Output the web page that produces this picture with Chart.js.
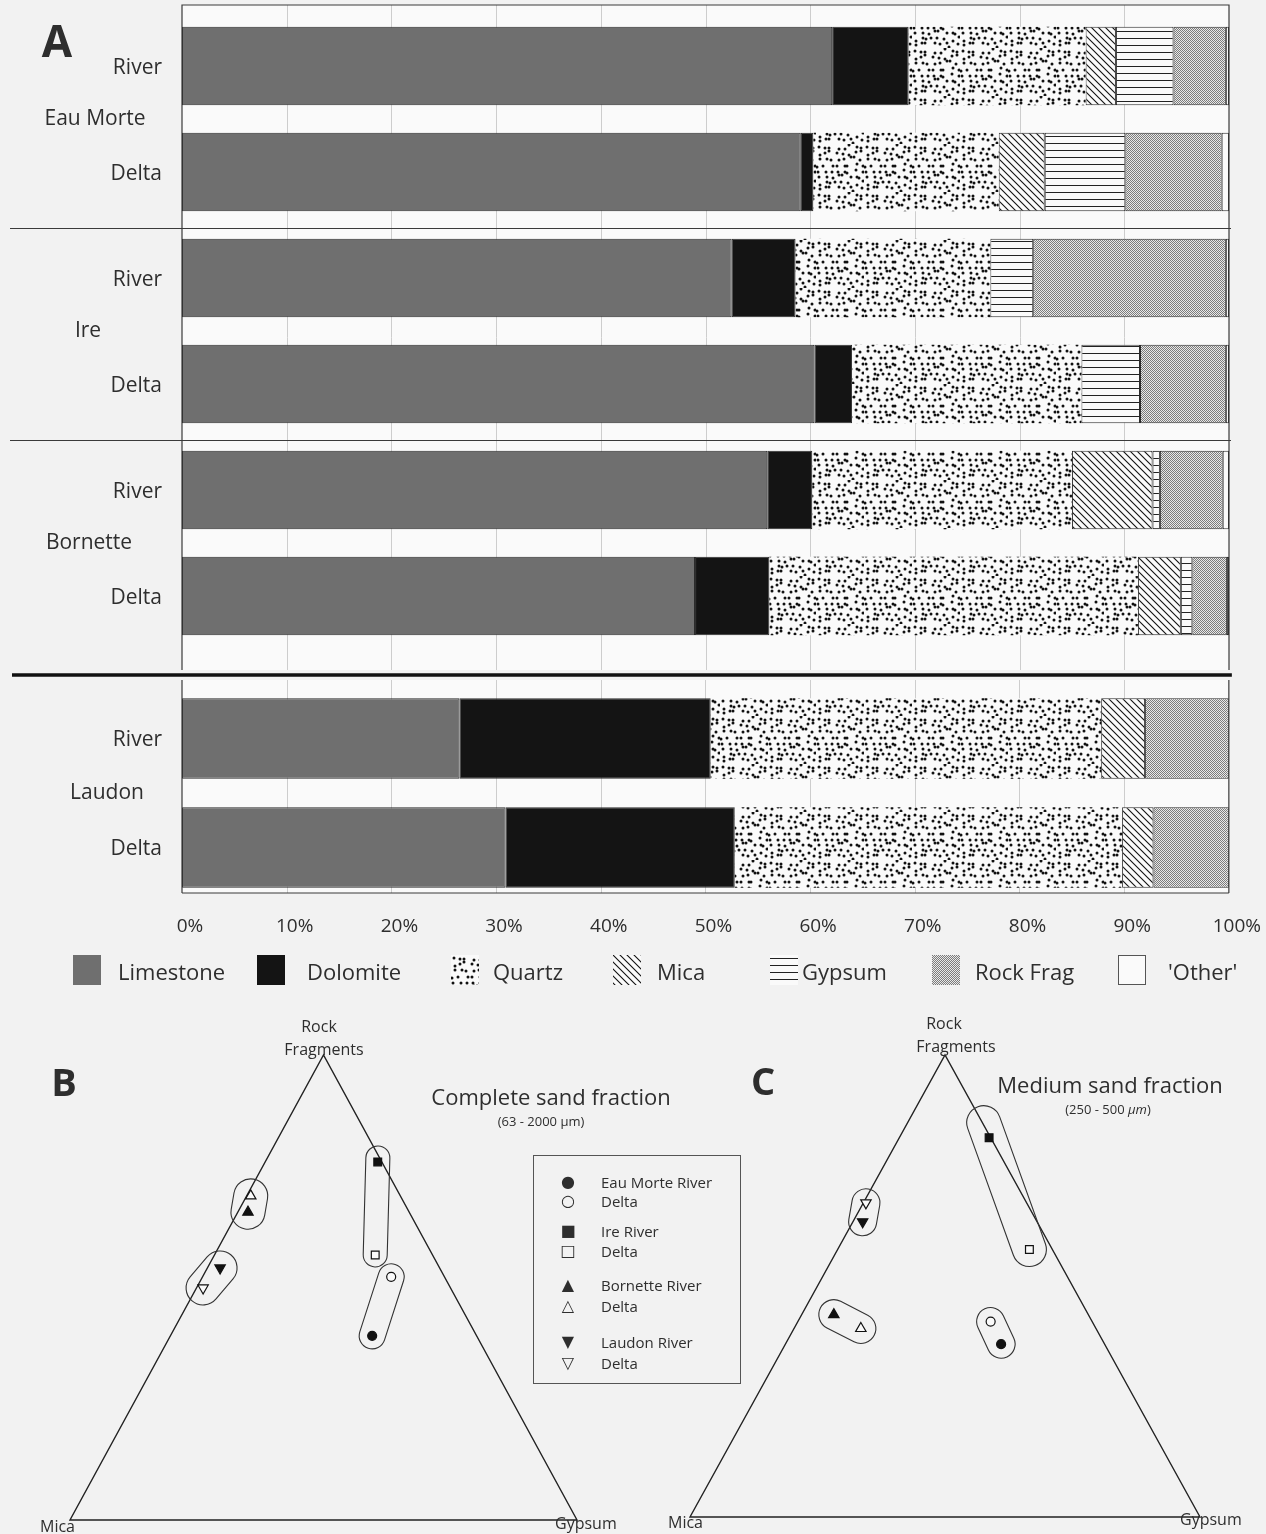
<!DOCTYPE html>
<html>
<head>
<meta charset="utf-8">
<title>Sand composition</title>
<script src="https://cdn.jsdelivr.net/npm/chart.js@4.4.1/dist/chart.umd.min.js"></script>
<style>
  html, body { margin: 0; padding: 0; background: #f2f2f2; }
  #page { position: relative; width: 1266px; height: 1534px; overflow: hidden; font-family: "Open Sans", sans-serif; color: #2e2e2e; }
  #page canvas { position: absolute; }
  .txt { position: absolute; white-space: nowrap; line-height: 1; }
  .mid { transform: translate(-50%, -50%); }
  .lft { transform: translateY(-50%); }
  #key-b { position: absolute; left: 533px; top: 1155px; width: 206px; height: 227px; border: 1px solid #555; }
  .sym { font-family: "DejaVu Sans", sans-serif; font-size: 16px; }
</style>
</head>
<body>
<div id="page">
  <canvas id="bar-top" width="1266" height="672" style="left:0;top:0"></canvas>
  <canvas id="bar-bottom" width="1266" height="332" style="left:0;top:668px"></canvas>
  <canvas id="tern-b" width="660" height="534" style="left:0;top:1000px"></canvas>
  <canvas id="tern-c" width="626" height="534" style="left:640px;top:1000px"></canvas>
  <div id="legend-a"></div>
  <div id="key-b"></div>

  <div class="txt mid" style="left:57px;top:40px;font-weight:700;font-size:44px">A</div>
  <div class="txt mid" style="left:64px;top:1081px;font-weight:700;font-size:38px">B</div>
  <div class="txt mid" style="left:763px;top:1080px;font-weight:700;font-size:38px">C</div>

  <div class="txt mid" style="left:319px;top:1026px;font-size:16px">Rock</div>
  <div class="txt mid" style="left:324px;top:1049px;font-size:16px">Fragments</div>
  <div class="txt lft" style="left:40px;top:1526px;font-size:16px">Mica</div>
  <div class="txt lft" style="left:555px;top:1523px;font-size:16px">Gypsum</div>
  <div class="txt mid" style="left:551px;top:1096px;font-size:22px">Complete sand fraction</div>
  <div class="txt mid" style="left:541px;top:1121px;font-size:13px">(63 - 2000 µm)</div>

  <div class="txt mid" style="left:944px;top:1023px;font-size:16px">Rock</div>
  <div class="txt mid" style="left:956px;top:1046px;font-size:16px">Fragments</div>
  <div class="txt lft" style="left:668px;top:1522px;font-size:16px">Mica</div>
  <div class="txt lft" style="left:1180px;top:1519px;font-size:16px">Gypsum</div>
  <div class="txt mid" style="left:1110px;top:1084px;font-size:22px">Medium sand fraction</div>
  <div class="txt mid" style="left:1108px;top:1109px;font-size:13px">(250 - 500 <i>µm</i>)</div>
</div>

<script>
(function () {
  "use strict";

  // Panel A: rows top to bottom
  var rowLabels = ["River", "Delta", "River", "Delta", "River", "Delta", "River", "Delta"];
  var groupLabels = ["Eau Morte", "Ire", "Bornette", "Laudon"];
  var minerals = ["Limestone", "Dolomite", "Quartz", "Mica", "Gypsum", "Rock Frag", "'Other'"];

  // percent of sand fraction, same row order as rowLabels
  var limestone = [62.1, 59.1, 52.5, 60.4, 55.9, 49.0, 26.5, 30.9];
  var dolomite  = [7.3, 1.2, 6.1, 3.6, 4.3, 7.1, 24.0, 21.9];
  var quartz    = [16.9, 17.7, 18.6, 21.9, 24.8, 35.2, 37.3, 37.0];
  var mica      = [2.9, 4.4, 0, 0, 7.7, 4.1, 4.2, 3.0];
  var gypsum    = [5.5, 7.7, 4.1, 5.6, 0.7, 1.1, 0, 0];
  var rockFrag  = [5.0, 9.2, 18.4, 8.2, 6.0, 3.3, 8.0, 7.2];
  var other     = [0.3, 0.7, 0.3, 0.3, 0.6, 0.2, 0, 0];
  var series = [limestone, dolomite, quartz, mica, gypsum, rockFrag, other];

  // Panels B and C: ternary compositions (Rock fragments / Mica / Gypsum, %)
  var sampleNames = ["Eau Morte River", "Eau Morte Delta", "Ire River", "Ire Delta",
                     "Bornette River", "Bornette Delta", "Laudon River", "Laudon Delta"];
  var rockB   = [39.6, 52.3, 77.0, 57.0, 66.2, 69.7, 54.2, 49.9];
  var micaB   = [20.6, 10.5, 0.8, 11.3, 31.8, 29.5, 43.3, 48.8];
  var gypsumB = [39.8, 37.2, 22.2, 31.7, 2.0, 0.8, 2.5, 1.3];
  var rockC   = [37.4, 42.3, 82.1, 57.9, 43.8, 40.8, 63.9, 68.0];
  var micaC   = [20.3, 19.9, 0.3, 4.5, 49.9, 46.1, 34.2, 31.5];
  var gypsumC = [42.3, 37.8, 17.6, 37.6, 6.3, 13.1, 1.9, 0.5];

  var fontFamily = "'Open Sans', sans-serif";
  var textColor = "#2e2e2e";

  function makeTile(w, h, paint) {
    var c = document.createElement("canvas");
    c.width = w;
    c.height = h;
    paint(c.getContext("2d"), w, h);
    return c;
  }

  // stipple texture for quartz: one dot per 6px cell, jittered with a fixed seed
  var quartzTile = makeTile(48, 48, function (c, w, h) {
    c.fillStyle = "#fafafa";
    c.fillRect(0, 0, w, h);
    c.fillStyle = "#111";
    var seed = 11;
    for (var gy = 0; gy < h; gy += 6) {
      for (var gx = 0; gx < w; gx += 6) {
        seed = (seed * 16807) % 2147483647;
        var px = gx + 1 + (seed % 5);
        seed = (seed * 16807) % 2147483647;
        var py = gy + 1 + (seed % 5);
        c.beginPath();
        c.arc(px, py, 1.5, 0, Math.PI * 2);
        c.fill();
      }
    }
  });

  var micaTile = makeTile(7, 7, function (c, w, h) {
    c.fillStyle = "#fafafa";
    c.fillRect(0, 0, w, h);
    c.strokeStyle = "#111";
    c.lineWidth = 1.1;
    c.beginPath();
    c.moveTo(-1, -1); c.lineTo(w + 1, h + 1);
    c.moveTo(-1, h - 1); c.lineTo(1, h + 1);
    c.moveTo(w - 1, -1); c.lineTo(w + 1, 1);
    c.stroke();
  });

  var gypsumTile = makeTile(7, 7, function (c, w, h) {
    c.fillStyle = "#fafafa";
    c.fillRect(0, 0, w, h);
    c.fillStyle = "#222";
    c.fillRect(0, 3, w, 1);
  });

  var rockTile = makeTile(2, 2, function (c) {
    c.fillStyle = "#e8e8e8";
    c.fillRect(0, 0, 2, 2);
    c.fillStyle = "#7c7c7c";
    c.fillRect(0, 0, 1, 1);
    c.fillRect(1, 1, 1, 1);
  });

  function mineralFills(ctx) {
    return [
      "#6f6f6f",
      "#141414",
      ctx.createPattern(quartzTile, "repeat"),
      ctx.createPattern(micaTile, "repeat"),
      ctx.createPattern(gypsumTile, "repeat"),
      ctx.createPattern(rockTile, "repeat"),
      "#fafafa",
    ];
  }

  var groupLabelX = [95, 88, 89, 107];

  function frameFor(o) {
    return {
      id: "barFrame",
      beforeDatasetsDraw: function (chart) {
        var ctx = chart.ctx, xs = chart.scales.x;
        var left = xs.getPixelForValue(0), right = xs.getPixelForValue(100);
        var top = o.top, bottom = o.bottom || chart.chartArea.bottom;
        ctx.save();
        ctx.fillStyle = "#fafafa";
        ctx.fillRect(left, top, right - left, bottom - top);
        ctx.strokeStyle = "#cdcdcd";
        ctx.lineWidth = 1;
        ctx.beginPath();
        for (var v = 10; v < 100; v += 10) {
          var px = Math.round(xs.getPixelForValue(v)) + 0.5;
          ctx.moveTo(px, top);
          ctx.lineTo(px, bottom);
        }
        ctx.stroke();
        ctx.restore();
      },
      afterDatasetsDraw: function (chart) {
        var ctx = chart.ctx, xs = chart.scales.x, ys = chart.scales.y;
        var left = xs.getPixelForValue(0), right = xs.getPixelForValue(100);
        var top = o.top, bottom = o.bottom || chart.chartArea.bottom;
        ctx.save();
        ctx.strokeStyle = "#3a3a3a";
        ctx.lineWidth = 1.2;
        ctx.beginPath();
        ctx.moveTo(left, bottom);
        ctx.lineTo(left, top);
        if (o.topLine) {
          ctx.lineTo(right, top);
        } else {
          ctx.moveTo(right, top);
        }
        ctx.lineTo(right, bottom);
        if (o.axisLine) {
          ctx.moveTo(left, bottom);
          ctx.lineTo(right, bottom);
        }
        for (var g = 1; g < o.groups.length; g++) {
          var sy = Math.round((ys.getPixelForValue(2 * g - 1) + ys.getPixelForValue(2 * g)) / 2) + 3.5;
          ctx.moveTo(10, sy);
          ctx.lineTo(right + 2, sy);
        }
        ctx.stroke();
        if (o.thickLine != null) {
          ctx.strokeStyle = "#111";
          ctx.lineWidth = 3.5;
          ctx.beginPath();
          ctx.moveTo(12, o.thickLine);
          ctx.lineTo(right + 3, o.thickLine);
          ctx.stroke();
        }
        ctx.fillStyle = textColor;
        ctx.font = "21px " + fontFamily;
        ctx.textBaseline = "middle";
        // row labels
        ctx.textAlign = "right";
        chart.data.labels.forEach(function (name, i) {
          ctx.fillText(name, 162, ys.getPixelForValue(i) + 2);
        });
        // site labels between each river / delta pair
        ctx.textAlign = "center";
        o.groups.forEach(function (name, i) {
          var gy = (ys.getPixelForValue(2 * i) + ys.getPixelForValue(2 * i + 1)) / 2;
          ctx.fillText(name, groupLabelX[o.groupOffset + i], gy);
        });
        ctx.restore();
      },
    };
  }

  function barChart(canvasId, from, to, o) {
    var canvas = document.getElementById(canvasId);
    var fills = mineralFills(canvas.getContext("2d"));
    var x = { stacked: true, min: 0, max: 100, display: false };
    if (o.showTicks) {
      x = {
        stacked: true,
        min: 0,
        max: 100,
        grid: { display: false, drawTicks: false },
        border: { display: false },
        ticks: {
          stepSize: 10,
          padding: 13,
          labelOffset: 8,
          color: textColor,
          font: { family: fontFamily, size: 19 },
          callback: function (v) { return v + "%"; },
        },
        afterFit: function (s) { s.height = o.axisHeight; },
      };
    }
    return new Chart(canvas, {
      type: "bar",
      data: {
        labels: rowLabels.slice(from, to),
        datasets: series.map(function (vals, i) {
          return {
            label: minerals[i],
            data: vals.slice(from, to),
            backgroundColor: fills[i],
            borderColor: "#2b2b2b",
            borderWidth: i === 2 ? 0 : 1,
            borderSkipped: false,
            categoryPercentage: 1,
            barPercentage: 0.74,
          };
        }),
      },
      options: {
        indexAxis: "y",
        responsive: false,
        animation: false,
        events: [],
        layout: { padding: o.padding },
        plugins: { legend: { display: false }, tooltip: { enabled: false } },
        scales: {
          x: x,
          y: {
            stacked: true,
            grid: { display: false, drawTicks: false },
            border: { display: false },
            ticks: { display: false },
            afterFit: function (s) { s.width = 182; },
          },
        },
      },
      plugins: [frameFor(o)],
    });
  }

  barChart("bar-top", 0, 6, {
    padding: { left: 0, right: 37, top: 13, bottom: 23 },
    top: 5, bottom: 670, topLine: true, axisLine: false, thickLine: null,
    groups: groupLabels.slice(0, 3), groupOffset: 0,
  });
  barChart("bar-bottom", 6, 8, {
    padding: { left: 0, right: 37, top: 16, bottom: 0 },
    showTicks: true, axisHeight: 98,
    top: 12, bottom: 225, topLine: false, axisLine: true, thickLine: 7,
    groups: groupLabels.slice(3), groupOffset: 3,
  });

  // legend for panel A
  var legendSwatchX = [73, 257, 451, 613, 770, 932, 1118];
  var legendTextX = [118, 307, 493, 657, 802, 975, 1168];
  var legendA = document.getElementById("legend-a");
  minerals.forEach(function (name, i) {
    var sw = document.createElement("canvas");
    sw.width = 28;
    sw.height = 30;
    sw.style.left = legendSwatchX[i] + "px";
    sw.style.top = "955px";
    var c = sw.getContext("2d");
    c.fillStyle = mineralFills(c)[i];
    c.fillRect(0, 0, 28, 30);
    if (i === 6) {
      c.strokeStyle = "#555";
      c.strokeRect(0.5, 0.5, 27, 29);
    }
    legendA.appendChild(sw);
    var t = document.createElement("div");
    t.className = "txt lft";
    t.style.left = legendTextX[i] + "px";
    t.style.top = "971px";
    t.style.fontSize = "22px";
    t.textContent = name;
    legendA.appendChild(t);
  });

  // ternary diagrams
  var markerStyle = ["circle", "circle", "rect", "rect", "triangle", "triangle", "triangle", "triangle"];
  var markerRotation = [0, 0, 0, 0, 0, 0, 180, 180];
  var markerRadius = [4.5, 4.5, 5.5, 5.5, 6, 6, 6, 6];
  var markerFilled = [true, false, true, false, true, false, true, false];
  var markerGlyph = ["●", "○", "■", "□", "▲", "△", "▼", "▽"];

  function capsulePath(ctx, ax, ay, bx, by, r, ext) {
    var t = Math.atan2(by - ay, bx - ax);
    ax -= Math.cos(t) * ext;
    ay -= Math.sin(t) * ext;
    ctx.beginPath();
    ctx.arc(bx, by, r, t - Math.PI / 2, t + Math.PI / 2);
    ctx.arc(ax, ay, r, t + Math.PI / 2, t + Math.PI * 1.5);
    ctx.closePath();
  }

  function triangleFrame(capsules) {
    return {
      id: "triangleFrame",
      beforeDatasetsDraw: function (chart) {
        var ctx = chart.ctx, xs = chart.scales.x, ys = chart.scales.y;
        ctx.save();
        ctx.strokeStyle = "#222";
        ctx.lineWidth = 1.4;
        ctx.beginPath();
        ctx.moveTo(xs.getPixelForValue(0), ys.getPixelForValue(0));
        ctx.lineTo(xs.getPixelForValue(100), ys.getPixelForValue(0));
        ctx.lineTo(xs.getPixelForValue(50), ys.getPixelForValue(100));
        ctx.closePath();
        ctx.stroke();
        ctx.lineWidth = 1.1;
        ctx.strokeStyle = "#333";
        capsules.forEach(function (cp) {
          var a = chart.getDatasetMeta(cp.pair[0]).data[0];
          var b = chart.getDatasetMeta(cp.pair[1]).data[0];
          capsulePath(ctx, a.x, a.y, b.x, b.y, cp.r, cp.ext || 0);
          ctx.stroke();
        });
        ctx.restore();
      },
    };
  }

  function ternaryChart(canvasId, rock, micaPart, gyp, padding, capsules) {
    var canvas = document.getElementById(canvasId);
    var datasets = sampleNames.map(function (name, i) {
      return {
        label: name,
        // mica share is implied: 100 - rock - gypsum
        data: [{ x: gyp[i] + rock[i] / 2, y: rock[i], mica: micaPart[i] }],
        pointStyle: markerStyle[i],
        pointRotation: markerRotation[i],
        pointRadius: markerRadius[i],
        pointBackgroundColor: markerFilled[i] ? "#111" : "#fafafa",
        pointBorderColor: "#111",
        pointBorderWidth: 1.2,
        clip: false,
      };
    });
    return new Chart(canvas, {
      type: "scatter",
      data: { datasets: datasets },
      options: {
        responsive: false,
        animation: false,
        events: [],
        layout: { padding: padding },
        plugins: { legend: { display: false }, tooltip: { enabled: false } },
        scales: {
          x: { type: "linear", min: 0, max: 100, display: false },
          y: { type: "linear", min: 0, max: 100, display: false },
        },
      },
      plugins: [triangleFrame(capsules)],
    });
  }

  ternaryChart("tern-b", rockB, micaB, gypsumB, { left: 70, right: 83, top: 55, bottom: 14 }, [
    { pair: [0, 1], r: 13 },
    { pair: [2, 3], r: 12, ext: 4 },
    { pair: [4, 5], r: 17 },
    { pair: [6, 7], r: 17 },
  ]);
  ternaryChart("tern-c", rockC, micaC, gypsumC, { left: 50, right: 66, top: 55, bottom: 17 }, [
    { pair: [0, 1], r: 14 },
    { pair: [2, 3], r: 17, ext: 16 },
    { pair: [4, 5], r: 15 },
    { pair: [6, 7], r: 14 },
  ]);

  // key for panels B and C
  var keyRowY = [26, 45, 75, 95, 129, 150, 186, 207];
  var key = document.getElementById("key-b");
  sampleNames.forEach(function (name, i) {
    var s = document.createElement("div");
    s.className = "txt mid sym";
    s.style.left = "34px";
    s.style.top = keyRowY[i] + "px";
    s.textContent = markerGlyph[i];
    key.appendChild(s);
    var t = document.createElement("div");
    t.className = "txt lft";
    t.style.left = "67px";
    t.style.top = keyRowY[i] + "px";
    t.style.fontSize = "15px";
    t.textContent = i % 2 === 0 ? name : "Delta";
    key.appendChild(t);
  });
})();
</script>
</body>
</html>
